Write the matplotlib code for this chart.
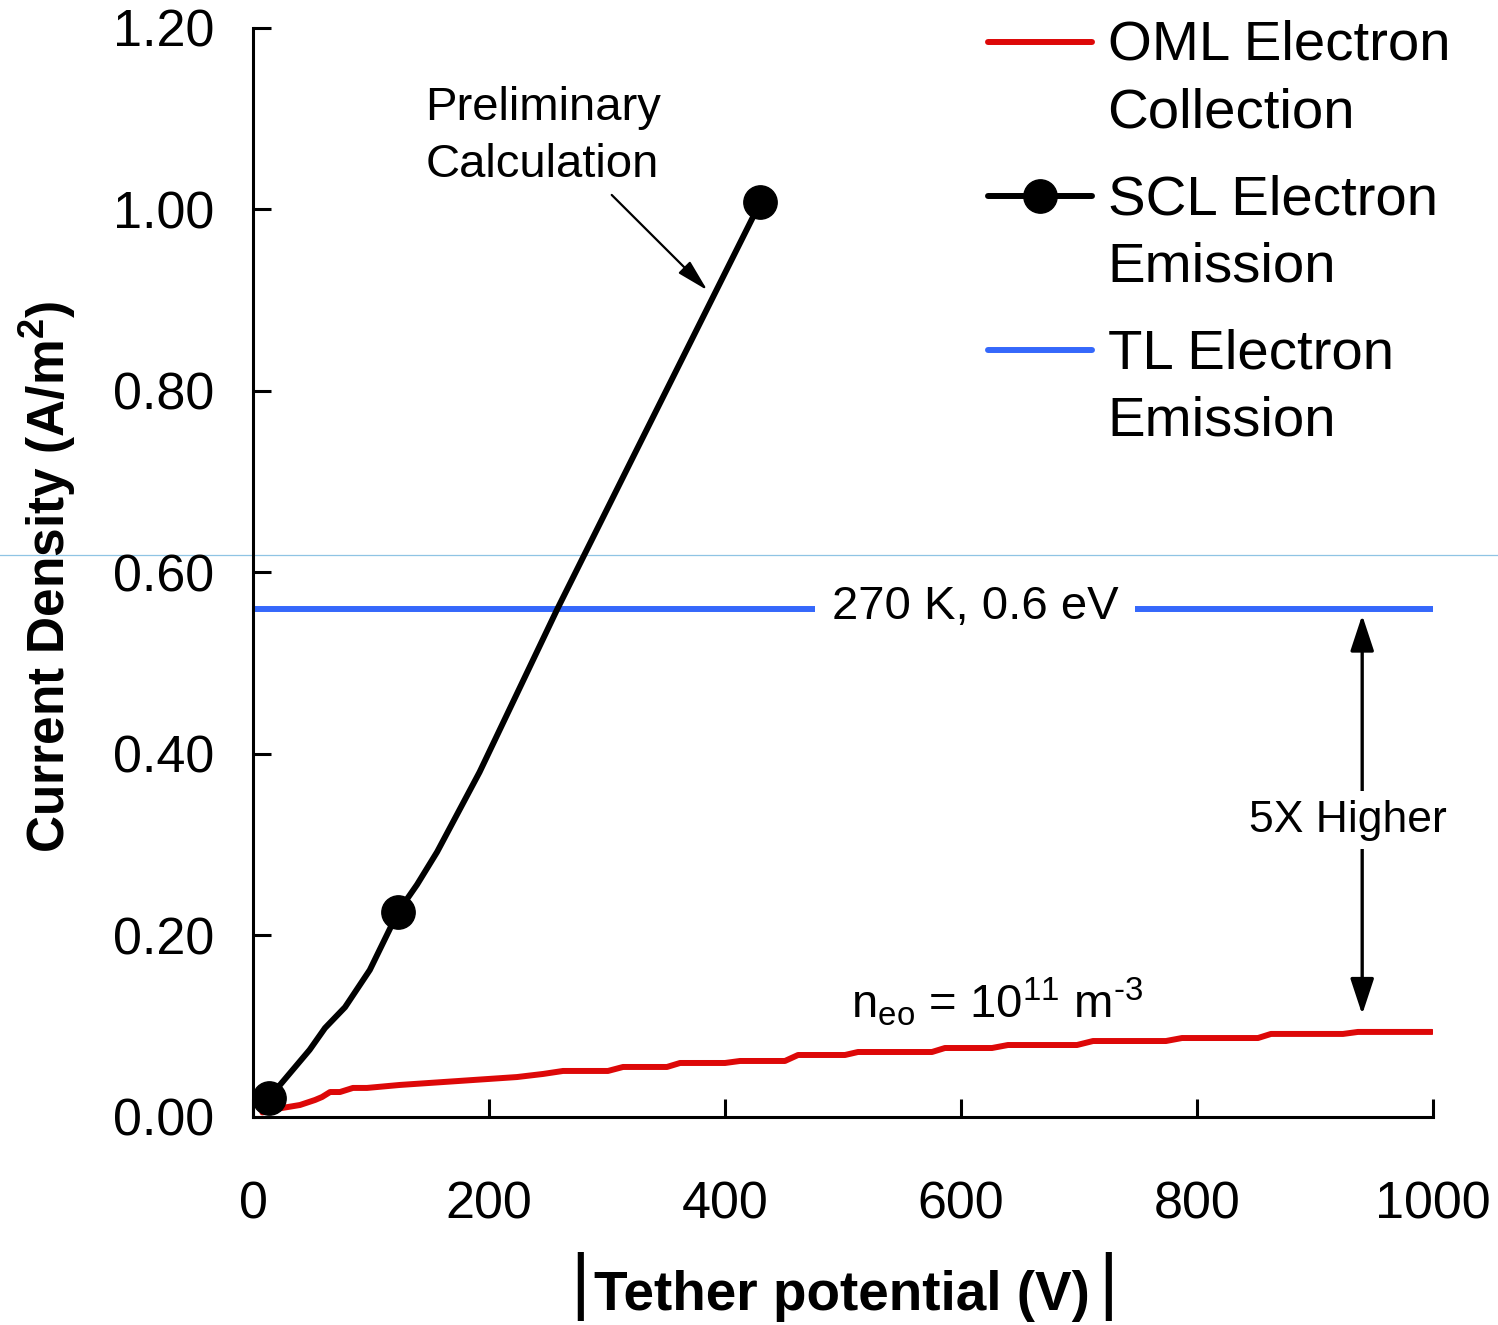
import matplotlib
matplotlib.use("Agg")
import matplotlib.pyplot as plt
import numpy as np
from matplotlib.legend_handler import HandlerLine2D

plt.rcParams['font.family'] = ['Liberation Sans', 'DejaVu Sans']
plt.rcParams['mathtext.fontset'] = 'custom'
plt.rcParams['mathtext.rm'] = 'Liberation Sans'
plt.rcParams['mathtext.it'] = 'Liberation Sans:italic'
plt.rcParams['mathtext.bf'] = 'Liberation Sans:bold'

# ---- data ----
oml_x = [8, 14.4, 39.8, 52.5, 58.5, 65.3, 73.7, 84.7, 96.6, 124.6, 223.7, 245.8, 262.7,
         300.8, 313.6, 350.8, 361.9, 400, 412.7, 450.8, 461.9, 501.7, 512.7, 575.4, 586.4,
         626.3, 639.8, 698.3, 711.9, 773.7, 787.3, 851.7, 862.7, 923.7, 936.4, 999.2]
oml_y = [0.005, 0.0077, 0.0132, 0.0187, 0.022, 0.0275, 0.0275, 0.032, 0.032, 0.0353, 0.044,
         0.0474, 0.0507, 0.0507, 0.0551, 0.0551, 0.0595, 0.0595, 0.0617, 0.0617, 0.0683,
         0.0683, 0.0716, 0.0716, 0.076, 0.076, 0.0793, 0.0793, 0.0837, 0.0837, 0.087, 0.087,
         0.0915, 0.0915, 0.0937, 0.0937]

scl_x = [13.6, 48, 61, 78, 99, 123, 139, 156, 192, 258, 322, 430]
scl_y = [0.021, 0.074, 0.098, 0.121, 0.162, 0.226, 0.256, 0.292, 0.38, 0.56, 0.727, 1.008]
scl_marker_idx = [0, 5, 11]

tl_x = [0, 1000]
tl_y = [0.56, 0.56]

x_ticks = [0, 200, 400, 600, 800, 1000]
y_ticks = [0.0, 0.2, 0.4, 0.6, 0.8, 1.0, 1.2]
y_ticklabels = ['0.00', '0.20', '0.40', '0.60', '0.80', '1.00', '1.20']

labels = ['OML Electron\nCollection', 'SCL Electron\nEmission', 'TL Electron\nEmission']

red = '#dd0808'
blue = '#3568fb'


class UpHandler(HandlerLine2D):
    """Line handler raised so that it sits on the first line of a two-line label."""
    def __init__(self, shift, **kw):
        super().__init__(**kw)
        self.shift = shift

    def create_artists(self, legend, orig_handle, xdescent, ydescent, width, height,
                       fontsize, trans):
        artists = super().create_artists(legend, orig_handle, xdescent, ydescent, width,
                                         height, fontsize, trans)
        for a in artists:
            a.set_ydata(np.asarray(a.get_ydata(), dtype=float) + self.shift)
        return artists


fig = plt.figure(figsize=(14.98, 13.25), dpi=100)
ax = fig.add_axes([0.1689, 0.157, 0.7877, 0.8219])

# faint guide line present in the reference image
ax.axhline(0.619, xmin=-0.2144, xmax=1.06, color='#8fc4e4', lw=0.9, clip_on=False, zorder=1)

l_oml, = ax.plot(oml_x, oml_y, color=red, lw=4.3, solid_capstyle='round', zorder=3)
l_scl, = ax.plot(scl_x, scl_y, color='black', lw=4.3, marker='o', markersize=24,
                 markevery=scl_marker_idx, solid_capstyle='round', zorder=4)
l_tl, = ax.plot(tl_x, tl_y, color=blue, lw=4.3, solid_capstyle='round', zorder=2)

ax.set_xlim(0, 1000)
ax.set_ylim(0, 1.2)
ax.set_xticks(x_ticks)
ax.set_yticks(y_ticks)
ax.set_yticklabels(y_ticklabels)
for s in ['top', 'right']:
    ax.spines[s].set_visible(False)
for s in ['left', 'bottom']:
    ax.spines[s].set_linewidth(2.2)
ax.tick_params(axis='both', direction='in', length=13, width=2.2, labelsize=37.5)
ax.tick_params(axis='x', pad=46)
ax.tick_params(axis='y', pad=28)

ax.set_ylabel('Current Density (A/m$^{\\mathbf{2}}$)', fontsize=37, fontweight='bold')
ax.yaxis.set_label_coords(-0.148, 0.496)
ax.set_xlabel('Tether potential (V)', fontsize=39.5, fontweight='bold')
ax.xaxis.set_label_coords(0.4995, -0.1772)
ax.xaxis.label.set_va('baseline')
# absolute-value bars around the axis title
for xb in (0.2775, 0.7246):
    ax.text(xb, -0.1555, '|', fontsize=54, ha='center', va='center',
            transform=ax.transAxes)

# annotations
ax.text(612, 0.549, '270 K, 0.6 eV', fontsize=34, ha='center', va='baseline',
        bbox=dict(facecolor='white', edgecolor='none', pad=12), zorder=5)

ax.text(146, 1.136, 'Preliminary\nCalculation', fontsize=34, ha='left', va='top',
        linespacing=1.37)
ax.annotate('', xy=(385, 0.911), xytext=(304, 1.016),
            arrowprops=dict(arrowstyle='-|>,head_length=0.7,head_width=0.18', lw=1.6,
                            color='black', mutation_scale=28, shrinkA=0, shrinkB=0))

ax.annotate('', xy=(940, 0.113), xytext=(940, 0.553),
            arrowprops=dict(arrowstyle='<|-|>,head_length=1.0,head_width=0.33', lw=2.4,
                            color='black', mutation_scale=22, shrinkA=0, shrinkB=0),
            annotation_clip=False, zorder=5)
ax.text(928, 0.327, '5X Higher', fontsize=32, ha='center', va='center',
        bbox=dict(facecolor='white', edgecolor='none', pad=6), zorder=6, clip_on=False)

ax.text(631, 0.109, r'n$_{\mathrm{eo}}$ = 10$^{\mathrm{11}}$ m$^{\text{-3}}$', fontsize=34,
        ha='center', va='baseline')

hmap = {h: UpHandler(27.5) for h in (l_oml, l_scl, l_tl)}
leg = fig.legend([l_oml, l_scl, l_tl], labels, loc='upper left', handler_map=hmap,
                 bbox_to_anchor=(988 / 1498, 1 - 20 / 1325), frameon=False, fontsize=40.6,
                 handlelength=1.84, handletextpad=0.28, labelspacing=0.62, borderpad=0,
                 borderaxespad=0)
for t in leg.get_texts():
    t.set_linespacing(1.38)

fig.savefig('out.png', dpi=100)
